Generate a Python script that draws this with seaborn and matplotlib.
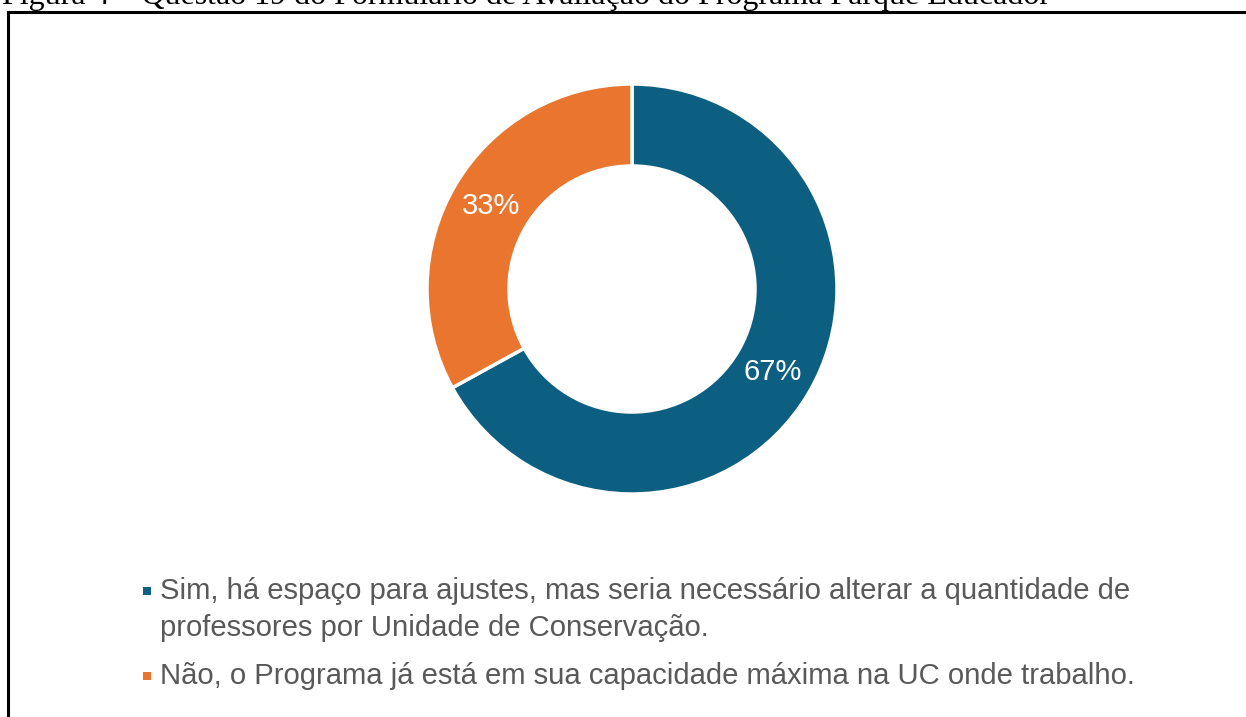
import matplotlib
matplotlib.use("Agg")
import matplotlib.pyplot as plt
import seaborn as sns
from matplotlib.lines import Line2D
from matplotlib.patches import Rectangle

# data
categories = [
    "Sim, há espaço para ajustes, mas seria necessário alterar a quantidade de\nprofessores por Unidade de Conservação.",
    "Não, o Programa já está em sua capacidade máxima na UC onde trabalho.",
]
shares = [67, 33]
slice_colors = ["#0D5F81", "#E9752F"]
caption = "Figura 4 – Questão 19 do Formulário de Avaliação do Programa Parque Educador"

sns.set_theme(style="white")
plt.rcParams["font.family"] = ["Liberation Sans", "DejaVu Sans"]

W, H = 1246, 717
fig = plt.figure(figsize=(W / 100, H / 100), dpi=100)
fig.patch.set_facecolor("white")

# donut axes, placed in pixel terms
cx, cy, r = 632, 289, 205
ax = fig.add_axes([(cx - r) / W, (H - cy - r) / H, 2 * r / W, 2 * r / H])
palette = sns.color_palette(slice_colors)
wedges, texts, autotexts = ax.pie(
    shares, colors=palette, startangle=90, counterclock=False,
    radius=1, autopct="%d%%", pctdistance=0.8,
    wedgeprops=dict(width=0.4, edgecolor="white", linewidth=2.5),
    textprops=dict(color="white", fontsize=21),
)
ax.set_xlim(-1, 1)
ax.set_ylim(-1, 1)
ax.axis("off")

# legend drawn by hand so the marker sits on the first text line
marker_y = [591, 676]
line_step = 37
for lab, col, y in zip(categories, palette, marker_y):
    fig.patches.append(Rectangle((143 / W, (H - y - 3.8) / H), 7.6 / W, 7.6 / H,
                                 transform=fig.transFigure, facecolor=col,
                                 edgecolor="none"))
    for i, line in enumerate(lab.split("\n")):
        fig.text(160 / W, (H - y - 8 - i * line_step) / H, line, ha="left",
                 va="baseline", fontsize=21.1, color="#595959")

# caption cut off at the top of the page
fig.text(2 / W, 1 - 4 / H, caption, ha="left", va="baseline",
         fontsize=23, family=["Liberation Serif", "DejaVu Serif"], color="black")

# frame of the figure box
fig.add_artist(Line2D([7.5 / W, 7.5 / W], [0, 1 - 11.5 / H], color="black", lw=2.2,
                      transform=fig.transFigure, solid_capstyle="projecting"))
fig.add_artist(Line2D([7.5 / W, 1], [1 - 11.5 / H, 1 - 11.5 / H], color="black", lw=2.2,
                      transform=fig.transFigure, solid_capstyle="projecting"))

fig.savefig("out.png", dpi=100, facecolor="white")
